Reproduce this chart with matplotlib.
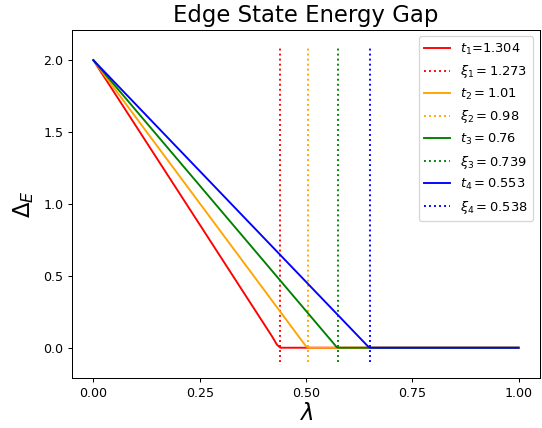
import matplotlib
matplotlib.use("Agg")
import matplotlib.pyplot as plt

# Data
colors = ["red", "orange", "green", "blue"]
t_labels = [r"$t_1$=1.304", r"$t_2 = 1.01$", r"$t_3 = 0.76$", r"$t_4 = 0.553$"]
xi_labels = [r"$\xi_1 = 1.273$", r"$\xi_2 = 0.98$", r"$\xi_3 = 0.739$", r"$\xi_4 = 0.538$"]
xi_positions = [0.44, 0.505, 0.575, 0.650]

lam_red = [0.0, 0.42, 0.432, 0.44, 1.0]
gap_red = [2.0, 0.08, 0.02, 0.0, 0.0]
lam_orange = [0.0, 0.49, 0.50, 0.506, 1.0]
gap_orange = [2.0, 0.05, 0.01, 0.0, 0.0]
lam_green = [0.0, 0.565, 0.572, 0.576, 1.0]
gap_green = [2.0, 0.03, 0.005, 0.0, 0.0]
lam_blue = [0.0, 0.645, 0.65, 1.0]
gap_blue = [2.0, 0.012, 0.0, 0.0]

lams = [lam_red, lam_orange, lam_green, lam_blue]
gaps = [gap_red, gap_orange, gap_green, gap_blue]

DPI = 91
fig = plt.figure(figsize=(542 / DPI, 428 / DPI), dpi=DPI)
ax = fig.add_axes([0.133, 0.117, 0.863, 0.813])

for c, tl, xl, xp, lx, gy in zip(colors, t_labels, xi_labels, xi_positions, lams, gaps):
    ax.plot(lx, gy, color=c, label=tl)
    ax.vlines(xp, -0.1, 2.1, colors=c, linestyles=":", label=xl)

ax.set_xticks([0.0, 0.25, 0.5, 0.75, 1.0])
ax.set_yticks([0.0, 0.5, 1.0, 1.5, 2.0])
ax.set_title("Edge State Energy Gap", fontsize=18)
ax.set_xlabel(r"$\lambda$", fontsize=18, labelpad=2)
ax.set_ylabel(r"$\Delta_E$", fontsize=18, labelpad=6)
ax.legend(loc="upper right", fontsize=10.3)

fig.savefig("out.png", dpi=DPI)
